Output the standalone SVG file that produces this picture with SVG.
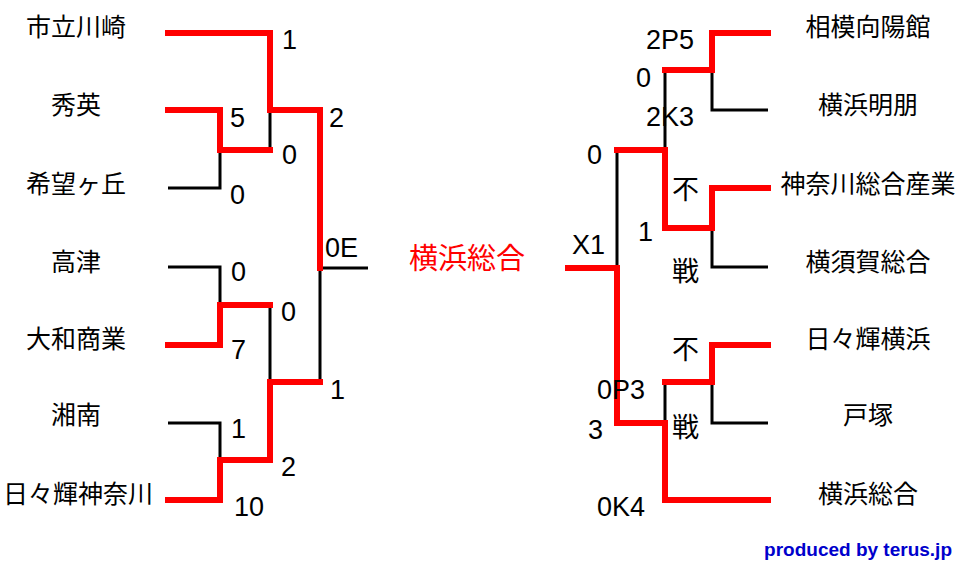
<svg xmlns="http://www.w3.org/2000/svg" width="960" height="564" viewBox="0 0 960 564">
<style>
text{font-family:"Noto Sans CJK JP","Noto Sans",sans-serif;fill:#000}
.t{font-size:25px;text-anchor:middle}
.n{font-size:27px;font-family:"Liberation Sans",sans-serif}
.r{stroke:#f00;stroke-width:6;fill:none;stroke-linecap:square}
.k{stroke:#000;stroke-width:3;fill:none}
</style>
<rect width="960" height="564" fill="#fff"/>
<g id="connectors">
<path class="k" d="M168,188H220V150M270,110V150M320,268H368M168,267H220V305M270,305V382M320,268V382M168,423H220V460"/>
<path class="r" d="M168,33H270V110H320V268M168,110H220V150H270M168,345H220V305H270M168,500H220V460H270V382H320"/>
<path class="k" d="M768,110H712V70M665,70V150M768,267H712V228M617,150V268M768,423H712V382M665,382V423"/>
<path class="r" d="M768,33H712V70H665M665,150H617M768,188H712V228H665V150M617,268H568M768,345H712V382H665M665,423H617V268M665,423V500H768"/>
</g>
<g id="teams-left">
<text class="t" x="76" y="36">市立川崎</text>
<text class="t" x="76" y="114">秀英</text>
<text class="t" x="76" y="193">希望ヶ丘</text>
<text class="t" x="76" y="271">高津</text>
<text class="t" x="76" y="348">大和商業</text>
<text class="t" x="76" y="424">湘南</text>
<text class="t" x="78" y="503">日々輝神奈川</text>
</g>
<g id="champion"><text class="t" x="467" y="269" style="fill:#f00;font-size:29px">横浜総合</text></g>
<g id="teams-right">
<text class="t" x="868" y="36">相模向陽館</text>
<text class="t" x="868" y="114">横浜明朋</text>
<text class="t" x="868" y="193">神奈川総合産業</text>
<text class="t" x="868" y="271">横須賀総合</text>
<text class="t" x="868" y="348">日々輝横浜</text>
<text class="t" x="868" y="424">戸塚</text>
<text class="t" x="868" y="503">横浜総合</text>
</g>
<g id="scores">
<text class="n" x="282" y="49">1</text>
<text class="n" x="230" y="127">5</text>
<text class="n" x="282" y="164">0</text>
<text class="n" x="329" y="127">2</text>
<text class="n" x="230" y="204">0</text>
<text class="n" x="325" y="257">0E</text>
<text class="n" x="231" y="281">0</text>
<text class="n" x="281" y="321">0</text>
<text class="n" x="231" y="359">7</text>
<text class="n" x="330" y="399">1</text>
<text class="n" x="231" y="438">1</text>
<text class="n" x="281" y="476">2</text>
<text class="n" x="234" y="516">10</text>
<text class="n" x="646" y="49">2P5</text>
<text class="n" x="636" y="87">0</text>
<text class="n" x="646" y="126">2K3</text>
<text class="n" x="587" y="164">0</text>
<text class="n" x="672" y="199" style="font-family:'Noto Sans CJK JP',sans-serif">不</text>
<text class="n" x="638" y="241">1</text>
<text class="n" x="572" y="254">X1</text>
<text class="n" x="672" y="281" style="font-family:'Noto Sans CJK JP',sans-serif">戦</text>
<text class="n" x="672" y="359" style="font-family:'Noto Sans CJK JP',sans-serif">不</text>
<text class="n" x="597" y="399">0P3</text>
<text class="n" x="588" y="439">3</text>
<text class="n" x="672" y="437" style="font-family:'Noto Sans CJK JP',sans-serif">戦</text>
<text class="n" x="597" y="516">0K4</text>
</g>
<text x="952" y="556" style="font-family:'Liberation Sans',sans-serif;font-size:19px;font-weight:bold;fill:#00c;text-anchor:end">produced by terus.jp</text>
</svg>
